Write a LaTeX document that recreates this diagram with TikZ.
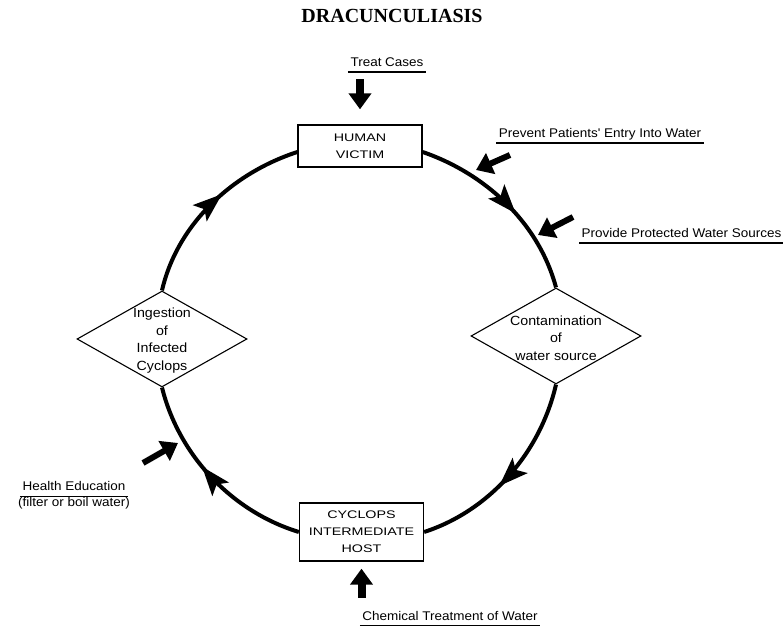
\documentclass[tikz,border=0pt]{standalone}
\usepackage{fontspec}
\setmainfont{Liberation Serif}
\newfontfamily\labelfont[FakeStretch=1.07]{Liberation Sans}
\newfontfamily\boxfont[FakeStretch=1.3]{Liberation Sans}
\usepackage{tikz}
\usetikzlibrary{positioning, arrows.meta, shapes.geometric, decorations.markings}

\begin{document}
\begin{tikzpicture}[
    x=1pt, y=1pt,
    hostbox/.style={draw, line width=1.3pt, minimum width=124pt, align=center, font=\boxfont\fontsize{11}{17}\selectfont},
    stagebox/.style={diamond, draw, line width=1.1pt, minimum width=170pt, minimum height=96pt, inner sep=0pt},
    stagetext/.style={align=center, font=\labelfont\fontsize{13.3}{17.5}\selectfont},
    actiontext/.style={anchor=base, inner sep=2.5pt, font=\labelfont\fontsize{12.6}{15}\selectfont},
    action/.style={actiontext, text depth=3pt,
        append after command={(\tikzlastnode.south west) edge[line width=1.4pt] (\tikzlastnode.south east)}},
    blockarrow/.style={line width=#1, -{Triangle[length=16pt, width=22pt]}},
    blockarrow/.default=8pt,
    loopedge/.style={line width=4pt, looseness=0.9, postaction={decorate},
        decoration={markings, mark=at position 0.57 with {\arrow{Stealth[length=29pt, width=21pt, inset=6pt]}}}}
]
\useasboundingbox (0,0) rectangle (783,628);

\node[font=\bfseries\fontsize{20}{24}\selectfont, anchor=base] (title) at (392,605) {DRACUNCULIASIS};

\node[hostbox, minimum height=42pt] (victim) at (360,482) {HUMAN\\VICTIM};
\node[hostbox, minimum height=58pt] (host) at (361.5,96) {CYCLOPS\\INTERMEDIATE\\HOST};
\node[stagebox] (ingest) at (162,289) {};
\node[stagebox] (contam) at (556,292) {};
\node[stagetext] (ingest-text) at ([yshift=-1.5pt]ingest) {Ingestion\\of\\Infected\\Cyclops};
\node[stagetext] (contam-text) at ([yshift=-2pt]contam) {Contamination\\of\\water source};

\draw[loopedge] ([yshift=-6pt]victim.east) to[out=-19, in=105] (contam.north);
\draw[loopedge] (contam.south) to[out=-103, in=18] (host.east);
\draw[loopedge] (host.west) to[out=163, in=-76] (ingest.south);
\draw[loopedge] (ingest.north) to[out=77, in=-162] ([yshift=-6pt]victim.west);

\node[action] (treat) at (387,561.5) {Treat Cases};
\node[action] (prevent) at (600,490.5) {Prevent Patients' Entry Into Water};
\node[action] (provide) at (681.5,390.5) {Provide Protected Water Sources};
\node[action] (health) at (74,137) {Health Education};
\node[actiontext] (healthnote) [below=16pt of health.base, anchor=base] {(filter or boil water)};
\node[action] (chemical) at (450,8) {Chemical Treatment of Water};

\coordinate (prevent-tail) at (510,473);
\coordinate (prevent-tip) at (476,458);
\coordinate (provide-tail) at (573,411);
\coordinate (provide-tip) at (538,393);
\coordinate (health-tail) at (143,165);
\coordinate (health-tip) at (178,185);

\draw[blockarrow] ([yshift=45pt]victim.north) -- ([yshift=15pt]victim.north);
\draw[blockarrow] ([yshift=-36pt]host.south) -- ([yshift=-7pt]host.south);
\draw[blockarrow=6pt] (prevent-tail) -- (prevent-tip);
\draw[blockarrow=6pt] (provide-tail) -- (provide-tip);
\draw[blockarrow=6pt] (health-tail) -- (health-tip);
\end{tikzpicture}
\end{document}
